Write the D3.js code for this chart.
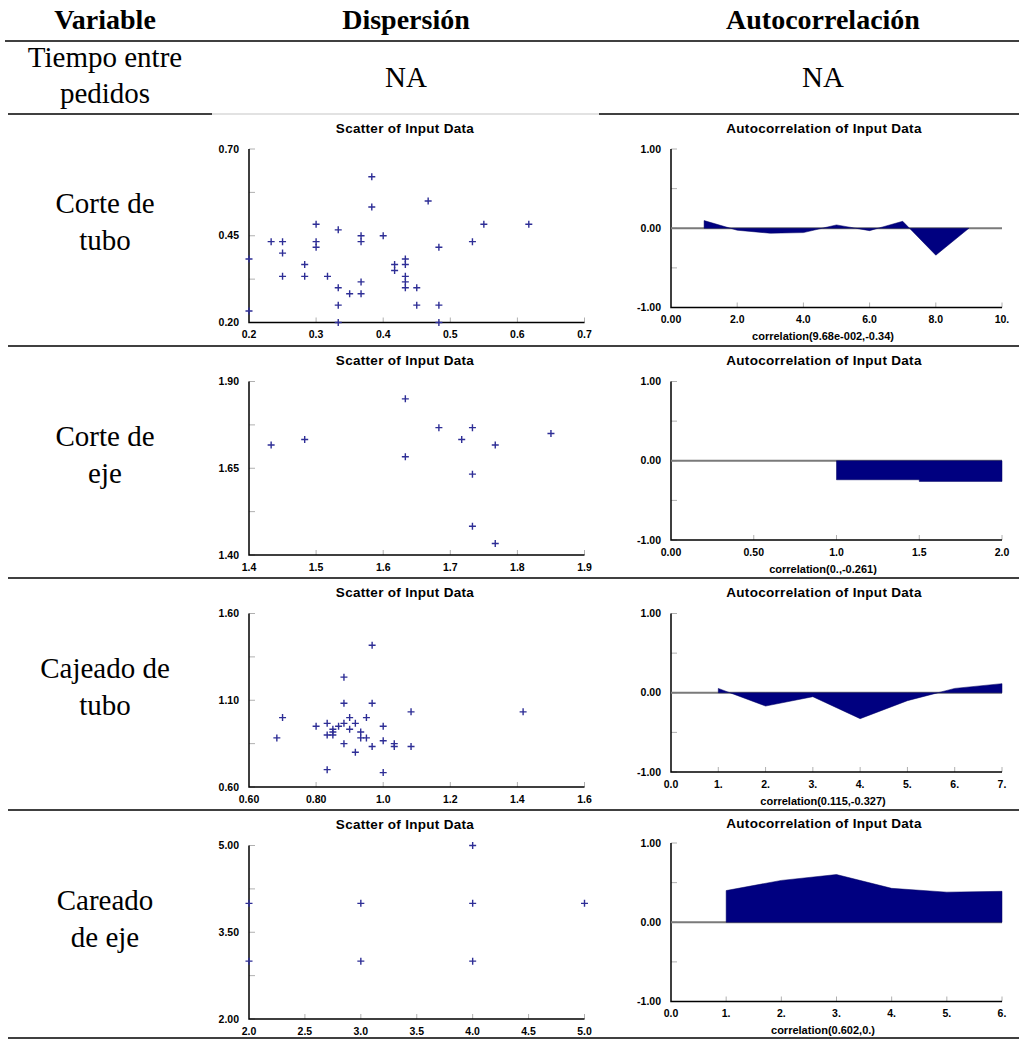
<!DOCTYPE html>
<html>
<head>
<meta charset="utf-8">
<script src="https://cdn.jsdelivr.net/npm/d3@7"></script>
<style>
  body { margin: 0; background: #fff; }
  .cell { font-family: "Liberation Serif", "Times New Roman", serif; font-size: 29px; fill: #000; }
  .head { font-weight: bold; font-size: 28px; }
  .chart text { font-family: "Liberation Sans", Arial, sans-serif; font-weight: bold; fill: #000; }
</style>
</head>
<body>
<div id="vis_container"></div>
<script>
// table text
var headers = ["Variable", "Dispersión", "Autocorrelación"];
var rowLabels = [["Tiempo entre", "pedidos"], ["Corte de", "tubo"], ["Corte de", "eje"], ["Cajeado de", "tubo"], ["Careado", "de eje"]];

// scatter data, [x, y] pairs
var scatterCorteTubo = [
  [0.2, 0.383], [0.2, 0.233], [0.233, 0.433], [0.25, 0.433], [0.25, 0.4], [0.25, 0.333],
  [0.283, 0.367], [0.283, 0.333], [0.3, 0.483], [0.3, 0.433], [0.3, 0.417], [0.317, 0.333],
  [0.333, 0.467], [0.333, 0.3], [0.333, 0.25], [0.333, 0.2], [0.35, 0.283], [0.367, 0.45],
  [0.367, 0.433], [0.367, 0.317], [0.367, 0.283], [0.383, 0.62], [0.383, 0.533], [0.4, 0.45],
  [0.417, 0.367], [0.417, 0.35], [0.433, 0.383], [0.433, 0.367], [0.433, 0.333], [0.433, 0.317],
  [0.433, 0.3], [0.45, 0.3], [0.45, 0.25], [0.467, 0.55], [0.483, 0.417], [0.483, 0.25],
  [0.483, 0.2], [0.533, 0.433], [0.55, 0.483], [0.617, 0.483]
];
var scatterCorteEje = [
  [1.433, 1.717], [1.483, 1.733], [1.633, 1.85], [1.633, 1.683], [1.683, 1.767], [1.717, 1.733],
  [1.733, 1.767], [1.733, 1.633], [1.733, 1.483], [1.767, 1.717], [1.767, 1.433], [1.85, 1.75]
];
var scatterCajeadoTubo = [
  [0.683, 0.883], [0.7, 1.0], [0.8, 0.95], [0.833, 0.967], [0.833, 0.9], [0.833, 0.7],
  [0.85, 0.933], [0.85, 0.917], [0.85, 0.9], [0.867, 0.95], [0.883, 1.233], [0.883, 1.083],
  [0.883, 0.967], [0.883, 0.85], [0.9, 1.0], [0.9, 0.933], [0.917, 0.967], [0.917, 0.8],
  [0.933, 0.917], [0.933, 0.883], [0.95, 1.0], [0.95, 0.883], [0.967, 1.417], [0.967, 1.083],
  [0.967, 0.833], [1.0, 0.95], [1.0, 0.867], [1.0, 0.683], [1.033, 0.85], [1.033, 0.833],
  [1.083, 1.033], [1.083, 0.833], [1.417, 1.033]
];
var scatterCareadoEje = [
  [2, 4], [2, 3], [3, 4], [3, 3], [4, 5], [4, 4], [4, 3], [5, 4]
];

// autocorrelation by lag (lag 1, 2, ...)
var acfCorteTubo = [0.0968, -0.025, -0.063, -0.055, 0.042, -0.03, 0.088, -0.34, 0.0];
var acfCorteEje = [-0.24, -0.261];
var acfCajeadoTubo = [0.055, -0.168, -0.05, -0.327, -0.1, 0.055, 0.115];
var acfCareadoEje = [0.4, 0.528, 0.602, 0.428, 0.38, 0.39];

// tick values and labels
var scatterXTicks = [
  [0.2, 0.3, 0.4, 0.5, 0.6, 0.7],
  [1.4, 1.5, 1.6, 1.7, 1.8, 1.9],
  [0.6, 0.8, 1.0, 1.2, 1.4, 1.6],
  [2.0, 2.5, 3.0, 3.5, 4.0, 4.5, 5.0]
];
var scatterXLabels = [
  ["0.2", "0.3", "0.4", "0.5", "0.6", "0.7"],
  ["1.4", "1.5", "1.6", "1.7", "1.8", "1.9"],
  ["0.60", "0.80", "1.0", "1.2", "1.4", "1.6"],
  ["2.0", "2.5", "3.0", "3.5", "4.0", "4.5", "5.0"]
];
var scatterYTicks = [
  [0.2, 0.325, 0.45, 0.575, 0.7],
  [1.4, 1.525, 1.65, 1.775, 1.9],
  [0.6, 0.85, 1.1, 1.35, 1.6],
  [2.0, 2.75, 3.5, 4.25, 5.0]
];
var scatterYLabels = [
  ["0.20", "", "0.45", "", "0.70"],
  ["1.40", "", "1.65", "", "1.90"],
  ["0.60", "", "1.10", "", "1.60"],
  ["2.00", "", "3.50", "", "5.00"]
];
var acfXTicks = [
  [0, 2, 4, 6, 8, 10],
  [0, 0.5, 1, 1.5, 2],
  [0, 1, 2, 3, 4, 5, 6, 7],
  [0, 1, 2, 3, 4, 5, 6]
];
var acfXLabels = [
  ["0.00", "2.0", "4.0", "6.0", "8.0", "10."],
  ["0.00", "0.50", "1.0", "1.5", "2.0"],
  ["0.0", "1.", "2.", "3.", "4.", "5.", "6.", "7."],
  ["0.0", "1.", "2.", "3.", "4.", "5.", "6."]
];
var acfYTicks = [-1, -0.5, 0, 0.5, 1];
var acfYLabels = ["-1.00", "", "0.00", "", "1.00"];
var acfCaptions = ["correlation(9.68e-002,-0.34)", "correlation(0.,-0.261)", "correlation(0.115,-0.327)", "correlation(0.602,0.)"];

var W = 1019, H = 1040;
var svg = d3.select("#vis_container").append("svg")
  .attr("width", W)
  .attr("height", H);

var rowTops = [115, 347.5, 579.5, 811.5];
var colX = [105, 406, 823];

// ---- table ----
headers.forEach(function(h, i) {
  svg.append("text").attr("class", "cell head")
    .attr("x", colX[i]).attr("y", 29)
    .attr("text-anchor", "middle").text(h);
});
svg.append("line").attr("x1", 5).attr("x2", W).attr("y1", 41).attr("y2", 41)
  .attr("stroke", "#000").attr("stroke-width", 1.5);

// first row (NA)
svg.append("text").attr("class", "cell").attr("x", colX[0]).attr("y", 67).attr("text-anchor", "middle").text(rowLabels[0][0]);
svg.append("text").attr("class", "cell").attr("x", colX[0]).attr("y", 103).attr("text-anchor", "middle").text(rowLabels[0][1]);
svg.append("text").attr("class", "cell").attr("x", colX[1]).attr("y", 87).attr("text-anchor", "middle").text("NA");
svg.append("text").attr("class", "cell").attr("x", colX[2]).attr("y", 87).attr("text-anchor", "middle").text("NA");

// separators
svg.append("line").attr("x1", 8).attr("x2", 212).attr("y1", 114).attr("y2", 114).attr("stroke", "#000").attr("stroke-width", 1.5);
svg.append("line").attr("x1", 212).attr("x2", 599).attr("y1", 114).attr("y2", 114).attr("stroke", "#d8d8d8").attr("stroke-width", 1.5);
svg.append("line").attr("x1", 599).attr("x2", W).attr("y1", 114).attr("y2", 114).attr("stroke", "#000").attr("stroke-width", 1.5);
[346, 578, 810, 1038].forEach(function(y) {
  svg.append("line").attr("x1", 8).attr("x2", W).attr("y1", y).attr("y2", y)
    .attr("stroke", "#000").attr("stroke-width", 1.5);
});

// row labels
rowTops.forEach(function(top, i) {
  svg.append("text").attr("class", "cell").attr("x", colX[0]).attr("y", top + 98).attr("text-anchor", "middle").text(rowLabels[i + 1][0]);
  svg.append("text").attr("class", "cell").attr("x", colX[0]).attr("y", top + 135).attr("text-anchor", "middle").text(rowLabels[i + 1][1]);
});

// ---- chart helpers ----
function drawFrame(g, x, y, xt, xl, yt, yl) {
  // gray tick marks
  g.selectAll(".ytick").data(yt).enter().append("line")
    .attr("x1", x.range()[0]).attr("x2", x.range()[0] + 6)
    .attr("y1", function(d) { return y(d); }).attr("y2", function(d) { return y(d); })
    .attr("stroke", "#b0b0b0").attr("stroke-width", 1);
  g.selectAll(".xtick").data(xt.slice(1)).enter().append("line")
    .attr("x1", function(d) { return x(d); }).attr("x2", function(d) { return x(d); })
    .attr("y1", y.range()[0]).attr("y2", y.range()[0] - 5)
    .attr("stroke", "#b0b0b0").attr("stroke-width", 1);
  // axes
  g.append("path")
    .attr("d", "M" + x.range()[0] + "," + y.range()[1] + "V" + y.range()[0] + "H" + x.range()[1])
    .attr("fill", "none").attr("stroke", "#000").attr("stroke-width", 1.5);
  // labels
  g.selectAll(".ylab").data(yt).enter().append("text")
    .attr("x", x.range()[0] - 10).attr("y", function(d) { return y(d); })
    .attr("dy", "0.35em").attr("text-anchor", "end")
    .style("font-size", "10.5px")
    .text(function(d, i) { return yl[i]; });
  g.selectAll(".xlab").data(xt).enter().append("text")
    .attr("x", function(d) { return x(d); }).attr("y", y.range()[0] + 12)
    .attr("dy", "0.35em").attr("text-anchor", "middle")
    .style("font-size", "10.5px")
    .text(function(d, i) { return xl[i]; });
}

function drawScatter(i, data) {
  var top = rowTops[i];
  var g = svg.append("g").attr("class", "chart");
  var xt = scatterXTicks[i], yt = scatterYTicks[i];
  var x = d3.scaleLinear().domain([xt[0], xt[xt.length - 1]]).range([249, 584.5]);
  var y = d3.scaleLinear().domain([yt[0], yt[yt.length - 1]]).range([top + 207.5, top + 34]);

  g.append("text").attr("x", 405).attr("y", top + 13).attr("dy", "0.35em")
    .attr("text-anchor", "middle").style("font-size", "13.5px").style("letter-spacing", "0.3px")
    .text("Scatter of Input Data");

  drawFrame(g, x, y, xt, scatterXLabels[i], yt, scatterYLabels[i]);

  g.selectAll(".pt").data(data).enter().append("path")
    .attr("transform", function(d) { return "translate(" + x(d[0]) + "," + y(d[1]) + ")"; })
    .attr("d", "M-3.5,0H3.5M0,-3.5V3.5")
    .attr("stroke", "#2e2e96").attr("stroke-width", 1.4);
}

function drawAcf(i, values, curve) {
  var top = rowTops[i];
  var off = i === 3 ? -2.5 : 0;
  var g = svg.append("g").attr("class", "chart");
  var xt = acfXTicks[i];
  var x = d3.scaleLinear().domain([xt[0], xt[xt.length - 1]]).range([671, 1002]);
  var y = d3.scaleLinear().domain([-1, 1]).range([top + 192.5 + off, top + 34 + off]);

  g.append("text").attr("x", 824).attr("y", top + 13 + off / 2).attr("dy", "0.35em")
    .attr("text-anchor", "middle").style("font-size", "13.5px").style("letter-spacing", "0.3px")
    .text("Autocorrelation of Input Data");

  drawFrame(g, x, y, xt, acfXLabels[i], acfYTicks, acfYLabels);

  var pts = values.map(function(v, k) { return { lag: k + 1, v: v }; });
  var area = d3.area()
    .x(function(d) { return x(d.lag); })
    .y0(y(0))
    .y1(function(d) { return y(d.v); })
    .curve(curve || d3.curveLinear);

  g.append("line")
    .attr("x1", x.range()[0]).attr("x2", x.range()[1])
    .attr("y1", y(0)).attr("y2", y(0))
    .attr("stroke", "#7a7a7a").attr("stroke-width", 2);

  g.append("path").datum(pts)
    .attr("d", area)
    .attr("fill", "#000080")
    .attr("stroke", "#000060").attr("stroke-width", 0.5);

  g.append("text").attr("x", 823).attr("y", y.range()[0] + 29).attr("dy", "0.35em")
    .attr("text-anchor", "middle").style("font-size", "11px")
    .text(acfCaptions[i]);
}

drawScatter(0, scatterCorteTubo);
drawScatter(1, scatterCorteEje);
drawScatter(2, scatterCajeadoTubo);
drawScatter(3, scatterCareadoEje);

drawAcf(0, acfCorteTubo);
drawAcf(1, acfCorteEje, d3.curveStep);
drawAcf(2, acfCajeadoTubo);
drawAcf(3, acfCareadoEje);
</script>
</body>
</html>
